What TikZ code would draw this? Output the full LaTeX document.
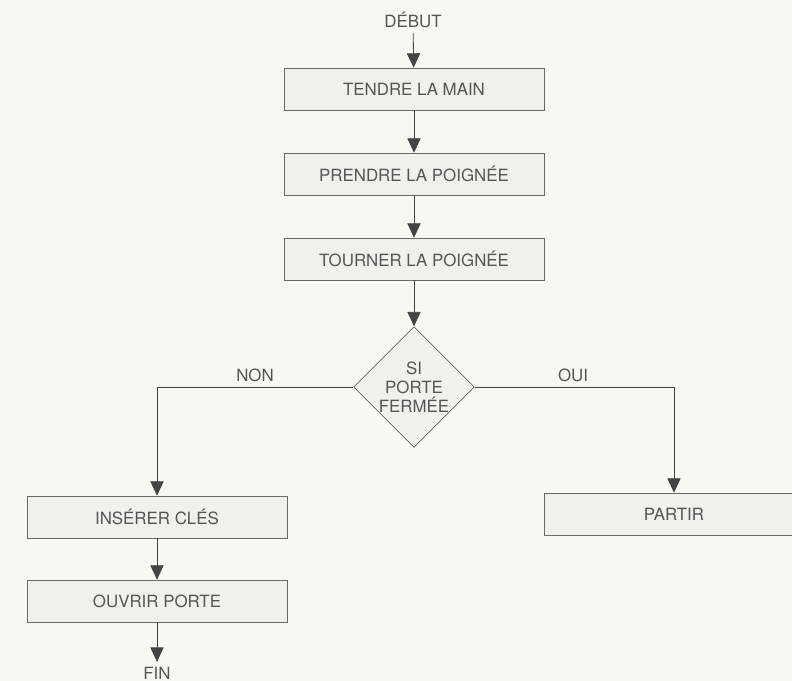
\documentclass[tikz,border=0pt]{standalone}
\usepackage{fontspec}
\setmainfont{TeX Gyre Heros}
\usetikzlibrary{shapes.geometric,arrows.meta}
\definecolor{fond}{HTML}{F8F7F1}
\definecolor{cadre}{HTML}{F1F0EA}
\definecolor{trait}{HTML}{444444}
\definecolor{texte}{HTML}{555555}
\begin{document}
\begin{tikzpicture}[
  x=0.025cm, y=-0.025cm,
  every node/.style={font=\fontsize{12}{14}\selectfont, text=texte},
  etape/.style={rectangle, draw=trait!80, fill=cadre, minimum width=6.5cm, minimum height=1.05cm, inner sep=2pt},
  test/.style={diamond, draw=trait, fill=cadre, minimum width=2.95cm, minimum height=2.875cm, inner sep=0pt, align=center, font=\fontsize{12}{13.5}\selectfont},
  fleche/.style={draw=trait, semithick, -{Triangle[length=0.36cm, width=0.33cm]}},
  trait/.style={draw=trait, semithick}
]
\useasboundingbox[fill=fond] (0,0) rectangle (792,681);
\node (debut) at (413,20) {DÉBUT};
\node[etape] (tendre) at (414,89) {TENDRE LA MAIN};
\node[etape] (prendre) at (414,174) {PRENDRE LA POIGNÉE};
\node[etape] (tourner) at (414,259) {TOURNER LA POIGNÉE};
\node[test] (porte) at (414,387) {SI\\PORTE\\FERMÉE};
\node[etape] (inserer) at (157,517) {INSÉRER CLÉS};
\node[etape] (ouvrir) at (157,601) {OUVRIR PORTE};
\node[etape] (partir) at (674,514) {PARTIR};
\node (fin) at (157,673) {FIN};
\node (non) at (255,375) {NON};
\node (oui) at (573,375) {OUI};
\draw[fleche] (debut) -- (tendre);
\draw[fleche] (tendre) -- (prendre);
\draw[fleche] (prendre) -- (tourner);
\draw[fleche] (tourner) -- (porte);
\draw[fleche] (porte.west) -| (inserer);
\draw[fleche] (porte.east) -| (partir);
\draw[fleche] (inserer) -- (ouvrir);
\draw[fleche] (ouvrir) -- (fin);
\end{tikzpicture}
\end{document}
